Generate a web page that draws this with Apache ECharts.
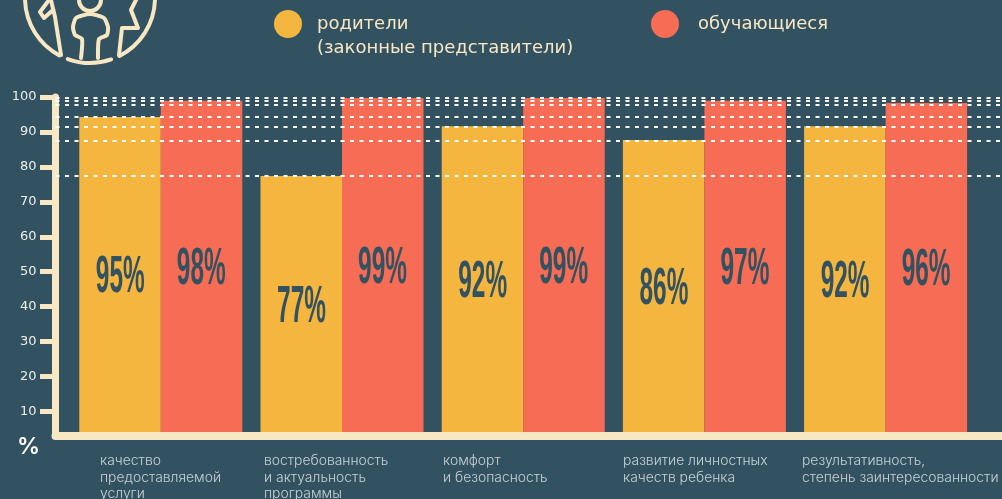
<!DOCTYPE html>
<html>
<head>
<meta charset="utf-8">
<style>
  html, body { margin: 0; padding: 0; background: #325262; overflow: hidden; }
  #chart { width: 1002px; height: 499px; }
</style>
<script src="https://cdn.jsdelivr.net/npm/echarts@6/dist/echarts.min.js"></script>
</head>
<body>
<div id="chart"></div>
<script>
const categories = [
  'качество\nпредоставляемой\nуслуги',
  'востребованность\nи актуальность\nпрограммы',
  'комфорт\nи безопасность',
  'развитие личностных\nкачеств ребенка',
  'результативность,\nстепень заинтересованности'
];
// высота столбиков на картинке не совпадает с подписями, поэтому отдельно
const parentValues = [94.3, 77.4, 91.6, 87.7, 91.6];
const studentValues = [98.9, 99.7, 99.7, 98.9, 98.3];
const parentLabels = ['95%', '77%', '92%', '86%', '92%'];
const studentLabels = ['98%', '99%', '99%', '97%', '96%'];
const dashLevels = [99.9, 98.85, 97.85, 94.35, 91.5, 87.5, 77.5];
const yTicks = [10, 20, 30, 40, 50, 60, 70, 80, 90, 100];
const labelLeft = [100, 264, 443, 623, 802];

const BG = '#325262';
const CREAM = '#f8e7c3';
const YELLOW = '#f4b63f';
const RED = '#f66c54';
const FONT = 'Inter, "Noto Sans", sans-serif';

let myChart = echarts.init(document.getElementById('chart'));

// подпись внутри столбика, сжатая по ширине
function percentLabel(texts, dir) {
  return function (params, api) {
    const i = params.dataIndex;
    const p = api.coord([i, api.value(1)]);
    return {
      type: 'text',
      x: p[0] + dir * 40.5,
      y: p[1] + 1.5,
      scaleX: 0.52,
      scaleY: 1.1,
      style: {
        text: texts[i],
        font: 'bold 47px "Liberation Sans Narrow", "Liberation Sans", sans-serif',
        fill: BG,
        align: 'center',
        verticalAlign: 'middle'
      }
    };
  };
}

function legendText(left, top, text) {
  return {
    type: 'text', left, top,
    style: { text, font: '18px "DejaVu Sans", sans-serif', fill: CREAM, lineHeight: 24 }
  };
}

const iconLine = { fill: null, stroke: CREAM, lineWidth: 4, lineCap: 'round', lineJoin: 'round' };
function iconPoly(points, smooth) {
  return { type: 'polyline', silent: true, shape: { points, smooth: smooth || 0 }, style: iconLine };
}
function iconArc(r, cx, cy, startDeg, endDeg) {
  return {
    type: 'arc', silent: true,
    shape: { cx, cy, r, startAngle: startDeg * Math.PI / 180, endAngle: endDeg * Math.PI / 180, clockwise: true },
    style: iconLine
  };
}

let option = {
  backgroundColor: BG,
  animation: false,
  grid: [
    // оси и пунктир на всю ширину
    { left: 55.5, right: 0, top: 97, bottom: 63 },
    // столбики
    { left: 70.2, width: 906, top: 97, bottom: 63 }
  ],
  xAxis: [
    {
      gridIndex: 0, type: 'value', min: 0, max: 1, z: 3,
      splitLine: { show: false }, axisTick: { show: false }, axisLabel: { show: false },
      axisLine: { show: true, onZero: false, lineStyle: { color: CREAM, width: 8 } }
    },
    { gridIndex: 1, type: 'category', data: categories, show: false }
  ],
  yAxis: [
    {
      gridIndex: 0, type: 'value', min: 3, max: 100, z: 3,
      splitLine: { show: false },
      axisLine: { show: true, lineStyle: { color: CREAM, width: 7 } },
      axisTick: { show: true, length: 15.5, customValues: yTicks, lineStyle: { color: CREAM, width: 5 } },
      axisLabel: { customValues: yTicks, color: '#eef0e6', fontFamily: '"DejaVu Sans", sans-serif', fontSize: 13, margin: 19 }
    },
    { gridIndex: 1, type: 'value', min: 3, max: 100, show: false }
  ],
  series: [
    {
      name: 'родители (законные представители)', type: 'bar', xAxisIndex: 1, yAxisIndex: 1,
      data: parentValues, barWidth: 81.5, barGap: 0, itemStyle: { color: YELLOW }
    },
    {
      name: 'обучающиеся', type: 'bar', xAxisIndex: 1, yAxisIndex: 1,
      data: studentValues, barWidth: 81.5, itemStyle: { color: RED }
    },
    {
      type: 'custom', xAxisIndex: 1, yAxisIndex: 1, z: 4, silent: true,
      data: parentValues.map((v, i) => [i, (3 + v) / 2]),
      renderItem: percentLabel(parentLabels, -1)
    },
    {
      type: 'custom', xAxisIndex: 1, yAxisIndex: 1, z: 4, silent: true,
      data: studentValues.map((v, i) => [i, (3 + v) / 2]),
      renderItem: percentLabel(studentLabels, 1)
    },
    {
      type: 'line', xAxisIndex: 0, yAxisIndex: 0, data: [], z: 5, silent: true,
      markLine: {
        silent: true, symbol: 'none', animation: false, label: { show: false },
        lineStyle: { color: '#ffffff', type: 'dashed', dashOffset: 0, width: 2, cap: 'butt' },
        data: dashLevels.map(v => ({ yAxis: v, lineStyle: { type: [4, 5.5] } }))
      }
    }
  ],
  graphic: [
    // значок
    iconArc(65, 90, -2, 118, 178),
    iconArc(65, 90, -2, 2, 63),
    iconArc(65, 90, -2, 71, 110),
    iconArc(11, 90, 0, 0, 180),
    iconPoly([[61, 55], [55, 17], [50, -4]]),
    iconPoly([[52, -4], [40, 12], [44, 18], [53, 10]]),
    iconPoly([[119, 55], [122, 28], [138, 28], [131, 10], [138, -4]]),
    iconPoly([[81, 58], [82, 39], [75, 35], [73, 27], [76, 18], [90, 14], [104, 18], [108, 27], [107, 35], [99, 39], [98, 58]], 0.2),
    // легенда
    { type: 'circle', shape: { cx: 288, cy: 24, r: 14 }, style: { fill: YELLOW } },
    { type: 'circle', shape: { cx: 665, cy: 24, r: 14 }, style: { fill: RED } },
    legendText(317, 12, 'родители\n(законные представители)'),
    legendText(698, 12, 'обучающиеся'),
    { type: 'text', left: 17, top: 436, style: { text: '%', font: '600 23px ' + FONT, fill: '#ffffff' } }
  ].concat(categories.map((c, i) => ({
    type: 'text', left: labelLeft[i], top: 453,
    style: { text: c, font: '300 13.9px ' + FONT, fill: '#c9d2d4', lineHeight: 16.5 }
  })))
};

myChart.setOption(option);
</script>
</body>
</html>
